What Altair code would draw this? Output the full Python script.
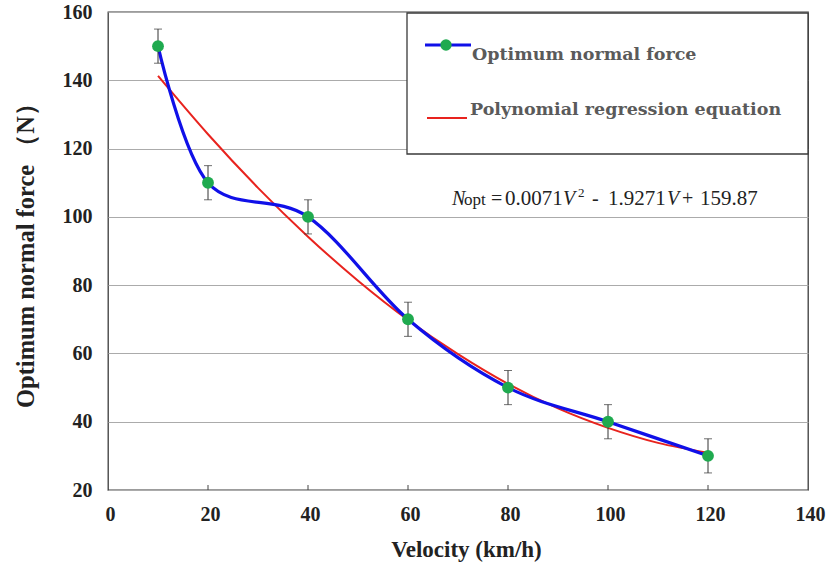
import altair as alt
import pandas as pd

# ---- data ----
velocity = [10, 20, 40, 60, 80, 100, 120]
force = [150, 110, 100, 70, 50, 40, 30]
error = [5, 5, 5, 5, 5, 5, 5]

fit_velocity = [10, 20, 30, 40, 50, 60, 70, 80, 90, 100, 110, 120]
fit_force = [141.3, 124.2, 108.5, 94.2, 81.3, 69.8, 59.8, 51.1, 43.9, 38.2, 33.8, 30.9]

x_tick_values = [0, 20, 40, 60, 80, 100, 120, 140]
y_tick_values = [20, 40, 60, 80, 100, 120, 140, 160]
inner_ticks = [20, 40, 60, 80, 100, 120]

FONT = "Liberation Serif"
LEG_FONT = "DejaVu Serif"
BLUE = "#1010e8"
GREEN = "#1faa4f"
RED = "#e8231e"

obs = pd.DataFrame({
    "V": velocity,
    "N": force,
    "lo": [n - e for n, e in zip(force, error)],
    "hi": [n + e for n, e in zip(force, error)],
})
fit = pd.DataFrame({"V": fit_velocity, "N": fit_force})
ticks = pd.DataFrame({"V": inner_ticks})
one = pd.DataFrame({"k": [0]})

xs = alt.Scale(domain=[0, 140], nice=False, zero=False)
ys = alt.Scale(domain=[20, 160], nice=False, zero=False)

X_TITLE = "Velocity (km/h)"
Y_TITLE = "Optimum  normal force （N）"

x_axis = alt.Axis(
    values=x_tick_values, grid=False, ticks=False, tickSize=0, domain=False,
    labelFont=FONT, labelFontWeight="bold", labelFontSize=20, labelColor="#222",
    labelPadding=24, labelBaseline="middle", labelFlush=False, labelOverlap=False,
    labelOffset=2,
    title=X_TITLE, titleFont=FONT, titleFontWeight="bold",
    titleFontSize=23, titleColor="#222", titleX=358, titleY=59,
    titleBaseline="middle", titleAlign="center",
)
y_axis = alt.Axis(
    values=y_tick_values, grid=True, gridColor="#ababab", gridWidth=1.2,
    ticks=False, tickSize=0, domain=False,
    labelFont=FONT, labelFontWeight="bold", labelFontSize=20, labelColor="#222",
    labelPadding=16, labelFlush=False, labelOverlap=False,
    title=Y_TITLE, titleFont=FONT, titleFontWeight="bold",
    titleFontSize=24.5, titleColor="#222", titleAngle=-90, titleX=-82, titleY=237,
    titleBaseline="middle", titleAlign="center",
)


def X(field):
    return alt.X(field, scale=xs, axis=x_axis, title=X_TITLE)


def Y(field):
    return alt.Y(field, scale=ys, axis=y_axis, title=Y_TITLE)


fit_line = alt.Chart(fit).mark_line(
    color=RED, strokeWidth=2, interpolate="monotone"
).encode(x=X("V:Q"), y=Y("N:Q"))

blue_line = alt.Chart(obs).mark_line(
    color=BLUE, strokeWidth=3.2, interpolate="cardinal"
).encode(x=X("V:Q"), y=Y("N:Q"))

err_rule = alt.Chart(obs).mark_rule(color="#333", strokeWidth=1).encode(
    x=X("V:Q"), y=Y("lo:Q"), y2="hi:Q",
)
cap_hi = alt.Chart(obs).mark_tick(
    color="#333", orient="horizontal", size=8, thickness=1
).encode(x=X("V:Q"), y=Y("hi:Q"))
cap_lo = alt.Chart(obs).mark_tick(
    color="#333", orient="horizontal", size=8, thickness=1
).encode(x=X("V:Q"), y=Y("lo:Q"))

points = alt.Chart(obs).mark_point(
    filled=True, color=GREEN, size=140, opacity=1
).encode(x=X("V:Q"), y=Y("N:Q"))

inner = alt.Chart(ticks).mark_rule(color="#444", strokeWidth=1).encode(
    x=X("V:Q"), y=alt.value(473), y2=alt.value(478),
)

# ---- legend box ----
legend_box = alt.Chart(one).mark_rect(
    fill="white", stroke="#3a3a3a", strokeWidth=1.3
).encode(x=alt.value(299), x2=alt.value(700), y=alt.value(1), y2=alt.value(142))

leg_blue = alt.Chart(one).mark_rule(color=BLUE, strokeWidth=3).encode(
    x=alt.value(317), x2=alt.value(363), y=alt.value(33)
)
leg_dot = alt.Chart(one).mark_point(filled=True, color=GREEN, size=130, opacity=1).encode(
    x=alt.value(338), y=alt.value(33)
)
leg_red = alt.Chart(one).mark_rule(color=RED, strokeWidth=2).encode(
    x=alt.value(319), x2=alt.value(359), y=alt.value(106)
)


def txt(s, x, y, size=18, bold=False, italic=False, color="#222",
        baseline="alphabetic", font=FONT):
    return alt.Chart(one).mark_text(
        text=s, font=font, fontSize=size, align="left", baseline=baseline,
        fontWeight="bold" if bold else "normal",
        fontStyle="italic" if italic else "normal", color=color,
    ).encode(x=alt.value(x), y=alt.value(y))


leg_t1 = txt("Optimum normal force", 364, 43, size=17.5, bold=True,
             color="#5a5a5a", baseline="middle", font=LEG_FONT)
leg_t2 = txt("Polynomial regression equation", 362, 98, size=17.5, bold=True,
             color="#5a5a5a", baseline="middle", font=LEG_FONT)

# equation pieces (plot coordinates)
eb = 193
eq = [
    txt("N", 344, eb, size=20, italic=True),
    txt("opt", 356, eb, size=17),
    txt("=", 383, eb, size=20),
    txt("0.0071", 397, eb, size=21),
    txt("V", 455, eb, size=20, italic=True),
    txt("2", 470, eb - 8, size=13),
    txt("-", 484, eb, size=20),
    txt("1.9271", 500, eb, size=21),
    txt("V", 559, eb, size=20, italic=True),
    txt("+", 574, eb, size=20),
    txt("159.87", 592, eb, size=21),
]

chart = alt.layer(
    fit_line, inner, legend_box, leg_blue, leg_dot, leg_red, leg_t1, leg_t2,
    *eq, blue_line, err_rule, cap_hi, cap_lo, points,
).properties(
    width=700, height=478,
    background="white",
    autosize=alt.AutoSizeParams(type="none"),
    padding={"left": 108, "top": 12, "right": 19, "bottom": 78},
).configure_view(
    stroke="#3a3a3a", strokeWidth=1.3
)

chart.save("out.html", embed_options={"renderer": "svg", "actions": False})
